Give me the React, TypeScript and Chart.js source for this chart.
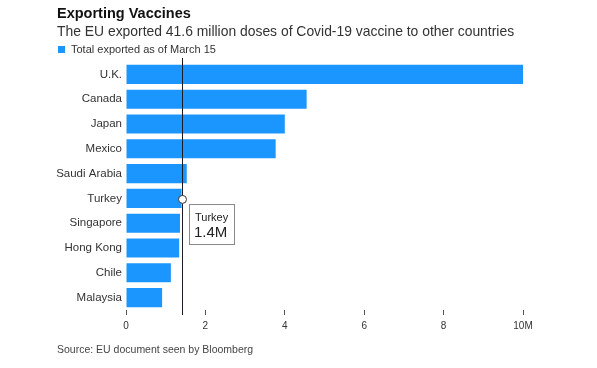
import React, { useEffect, useRef } from "react";
import { Chart, registerables } from "chart.js";

Chart.register(...registerables);

const categories = ["U.K.", "Canada", "Japan", "Mexico", "Saudi Arabia", "Turkey", "Singapore", "Hong Kong", "Chile", "Malaysia"];
const exported = [10.0, 4.55, 4.0, 3.77, 1.53, 1.4, 1.36, 1.34, 1.13, 0.91];
const xTickValues = [0, 2, 4, 6, 8, 10];
const highlightedCategory = "Turkey";

const FONT = "'Liberation Sans', Arial, Helvetica, sans-serif";
const BLUE = "#1b96ff";

const crosshairPlugin = {
  id: "crosshair",
  afterDatasetsDraw(chart: any) {
    const idx = categories.indexOf(highlightedCategory);
    const xs = chart.scales.x;
    const ys = chart.scales.y;
    const x = Math.round(xs.getPixelForValue(exported[idx])) + 0.5;
    const y = ys.getPixelForValue(idx);
    const ctx = chart.ctx;
    const area = chart.chartArea;
    ctx.save();
    ctx.strokeStyle = "#1c1c28";
    ctx.lineWidth = 1;
    ctx.beginPath();
    ctx.moveTo(x, area.top - 4);
    ctx.lineTo(x, area.bottom + 5);
    ctx.stroke();
    ctx.beginPath();
    ctx.arc(x, y + 1, 4, 0, Math.PI * 2);
    ctx.fillStyle = "#ffffff";
    ctx.fill();
    ctx.strokeStyle = "#333";
    ctx.stroke();
    // tooltip box
    const bx = Math.round(x + 6.5);
    const by = Math.round(y + 6);
    const bw = 45;
    const bh = 40;
    ctx.fillStyle = "#ffffff";
    ctx.fillRect(bx, by, bw, bh);
    ctx.strokeStyle = "#8a8a8a";
    ctx.strokeRect(bx + 0.5, by + 0.5, bw, bh);
    ctx.fillStyle = "#222";
    ctx.textBaseline = "middle";
    ctx.textAlign = "left";
    ctx.font = `11px ${FONT}`;
    ctx.fillText(highlightedCategory, bx + 6, by + 14);
    ctx.font = `15px ${FONT}`;
    ctx.fillText(`${exported[idx].toFixed(1)}M`, bx + 5, by + 29);
    ctx.restore();
  },
};

export default function App() {
  const ref = useRef<HTMLCanvasElement>(null);
  useEffect(() => {
    if (!ref.current) return;
    const chart = new Chart(ref.current, {
      type: "bar",
      data: {
        labels: categories,
        datasets: [
          {
            label: "Total exported as of March 15",
            data: exported,
            backgroundColor: BLUE,
            borderWidth: 0,
            barPercentage: 0.77,
            categoryPercentage: 1,
          },
        ],
      },
      options: {
        indexAxis: "y",
        animation: false,
        responsive: false,
        devicePixelRatio: 1,
        layout: { padding: { left: 0, top: 62, right: 74, bottom: 28 } },
        plugins: {
          legend: { display: false },
          tooltip: { enabled: false },
          title: { display: false },
        },
        scales: {
          x: {
            min: 0,
            max: 10,
            afterBuildTicks: (scale: any) => {
              scale.ticks = xTickValues.map((v) => ({ value: v }));
            },
            afterFit: (scale: any) => {
              scale.height = 30;
            },
            ticks: {
              callback: (v: any) => (v === 10 ? "10M" : String(v)),
              color: "#333",
              font: { family: FONT, size: 10 },
              padding: 5,
              maxRotation: 0,
            },
            grid: { drawOnChartArea: false, drawTicks: true, tickLength: 5, color: "#555" },
            border: { display: false },
          },
          y: {
            afterFit: (scale: any) => {
              scale.width = 126;
            },
            ticks: {
              color: "#333",
              font: { family: FONT, size: 11.5 },
              padding: 4,
            },
            grid: { display: false, drawTicks: false },
            border: { display: false },
          },
        },
      },
      plugins: [crosshairPlugin],
    });
    return () => chart.destroy();
  }, []);

  return (
    <div style={{ position: "fixed", left: 0, top: 0, width: 597, height: 368, background: "#fff", fontFamily: FONT }}>
      <canvas ref={ref} width={597} height={368} style={{ position: "absolute", left: 0, top: 0 }} />
      <div style={{ position: "absolute", left: 57, top: 5, fontSize: 14.5, fontWeight: "bold", color: "#111", whiteSpace: "nowrap" }}>
        Exporting Vaccines
      </div>
      <div style={{ position: "absolute", left: 57, top: 23, fontSize: 13.9, color: "#333", whiteSpace: "nowrap" }}>
        The EU exported 41.6 million doses of Covid-19 vaccine to other countries
      </div>
      <div style={{ position: "absolute", left: 58, top: 43, fontSize: 11, color: "#333", whiteSpace: "nowrap", display: "flex", alignItems: "center" }}>
        <span style={{ display: "inline-block", width: 7, height: 7, background: BLUE, marginRight: 6 }} />
        Total exported as of March 15
      </div>
      <div style={{ position: "absolute", left: 57, top: 343, fontSize: 10.5, color: "#444", whiteSpace: "nowrap" }}>
        Source: EU document seen by Bloomberg
      </div>
    </div>
  );
}
